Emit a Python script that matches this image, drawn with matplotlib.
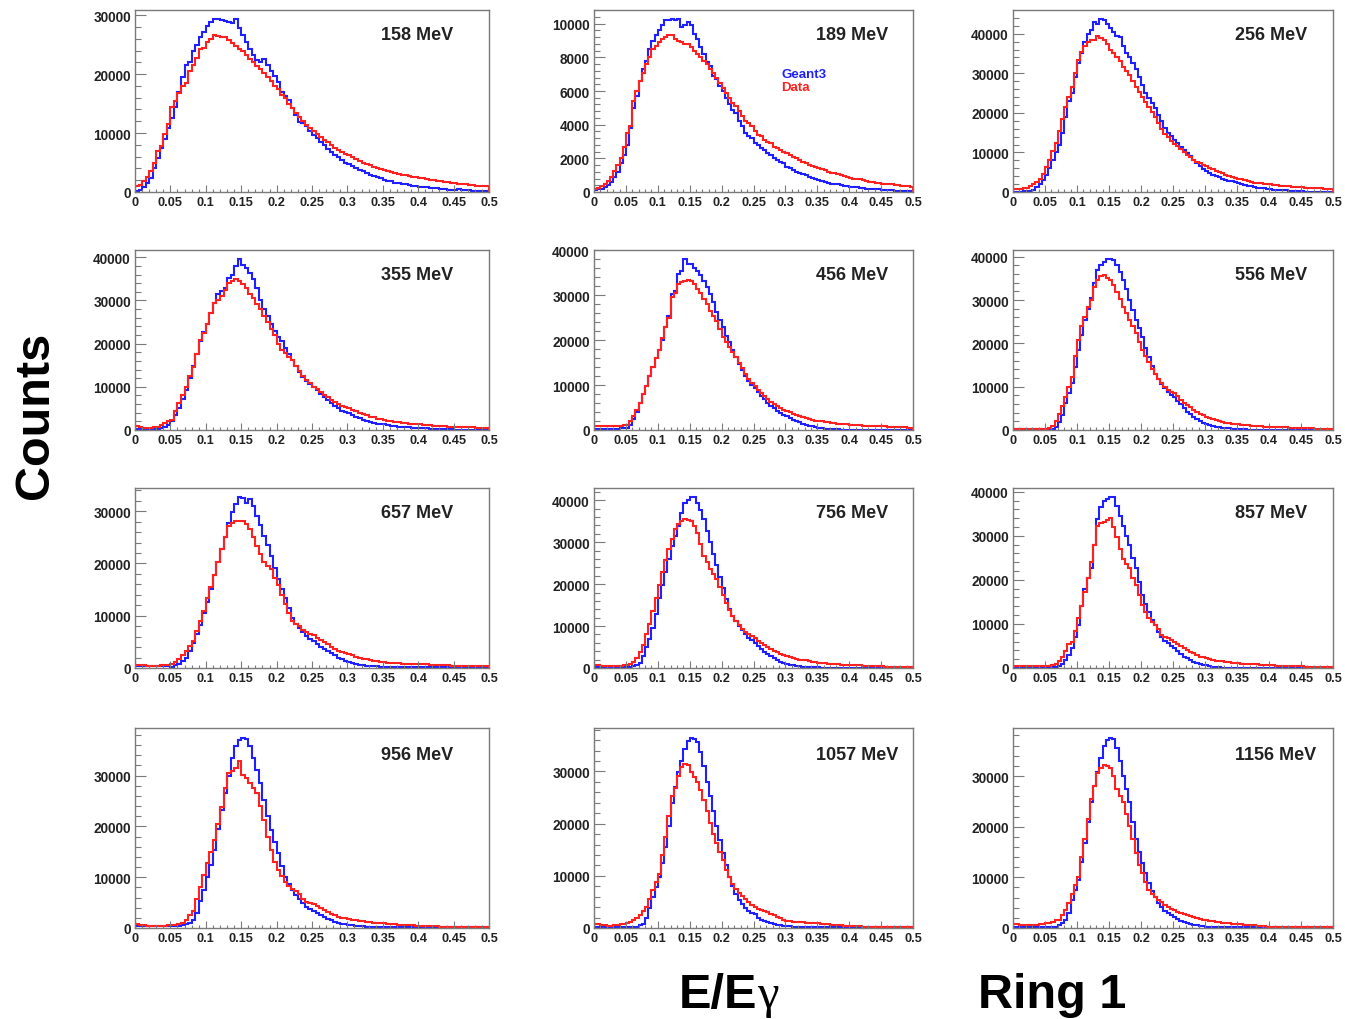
import numpy as np
import matplotlib
matplotlib.use("Agg")
import matplotlib.pyplot as plt
from matplotlib.ticker import MultipleLocator, FuncFormatter

plt.rcParams['font.family'] = ['Liberation Sans', 'DejaVu Sans']
plt.rcParams['font.weight'] = 'bold'

# E/Egamma histograms for ring 1, 100 bins on [0, 0.5], counts in thousands
edges = np.linspace(0.0, 0.5, 101)
energies = [158, 189, 256, 355, 456, 556, 657, 756, 857, 956, 1057, 1156]

g158 = [0.2, 0.4, 0.8, 1.5, 2.4, 4.0, 5.8, 7.5, 9.0, 10.8,
        12.5, 14.5, 17.0, 19.5, 21.6, 22.0, 24.0, 25.0, 26.3, 27.2,
        28.2, 28.8, 29.3, 29.4, 29.2, 29.0, 28.9, 28.7, 29.4, 27.8,
        26.6, 25.5, 24.2, 23.2, 22.4, 22.0, 22.6, 21.5, 20.5, 19.6,
        18.6, 17.0, 16.2, 15.6, 14.2, 13.0, 11.8, 11.7, 11.2, 10.3,
        9.7, 9.1, 8.5, 7.9, 7.3, 6.8, 6.3, 5.9, 5.4, 5.0,
        4.7, 4.4, 4.1, 3.8, 3.5, 3.2, 2.9, 2.7, 2.5, 2.3,
        2.1, 1.9, 1.8, 1.6, 1.5, 1.4, 1.3, 1.2, 1.1, 1.0,
        0.9, 0.8, 0.8, 0.7, 0.6, 0.6, 0.5, 0.5, 0.4, 0.4,
        0.4, 0.5, 0.3, 0.3, 0.3, 0.2, 0.2, 0.2, 0.2, 0.2]
d158 = [1.0, 1.2, 1.8, 2.5, 3.6, 5.0, 7.0, 7.8, 9.9, 11.5,
        14.4, 15.5, 16.8, 18.0, 18.5, 20.5, 21.6, 22.8, 24.2, 24.5,
        25.5, 26.0, 26.6, 26.5, 26.3, 26.3, 25.8, 25.3, 24.8, 24.3,
        23.9, 23.2, 22.6, 22.0, 21.4, 20.8, 20.2, 19.5, 18.8, 18.0,
        17.4, 16.4, 15.9, 15.0, 14.2, 13.4, 12.7, 12.0, 11.4, 10.9,
        10.4, 9.9, 9.4, 8.9, 8.4, 8.0, 7.5, 7.1, 6.8, 6.5,
        6.2, 5.9, 5.6, 5.3, 5.0, 4.8, 4.5, 4.3, 4.1, 3.9,
        3.8, 3.6, 3.4, 3.2, 3.0, 2.9, 2.8, 2.7, 2.6, 2.5,
        2.4, 2.3, 2.2, 2.1, 2.0, 1.9, 1.8, 1.7, 1.7, 1.6,
        1.5, 1.4, 1.4, 1.3, 1.2, 1.2, 1.1, 1.1, 1.0, 1.0]

g189 = [0.1, 0.15, 0.2, 0.3, 0.4, 0.6, 0.9, 1.2, 1.7, 2.2,
        2.8, 3.8, 5.0, 5.7, 6.6, 7.3, 7.8, 8.5, 9.0, 9.3,
        9.6, 9.9, 10.2, 10.2, 10.3, 10.2, 10.3, 9.8, 9.9, 10.1,
        9.9, 9.4, 9.1, 8.6, 8.2, 7.7, 7.5, 6.9, 6.7, 6.3,
        6.0, 5.6, 5.2, 4.9, 4.7, 4.2, 3.9, 3.5, 3.3, 3.2,
        2.9, 2.8, 2.6, 2.5, 2.3, 2.2, 2.0, 1.9, 1.8, 1.7,
        1.5, 1.4, 1.3, 1.2, 1.15, 1.05, 1.0, 0.9, 0.85, 0.75,
        0.7, 0.65, 0.6, 0.55, 0.5, 0.5, 0.45, 0.4, 0.35, 0.35,
        0.3, 0.3, 0.28, 0.25, 0.22, 0.2, 0.2, 0.2, 0.15, 0.15,
        0.12, 0.12, 0.1, 0.1, 0.08, 0.08, 0.06, 0.05, 0.05, 0.05]
d189 = [0.2, 0.25, 0.35, 0.5, 0.65, 0.9, 1.25, 1.6, 2.0, 2.7,
        3.5, 3.9, 5.4, 6.0, 6.6, 7.1, 7.6, 8.0, 8.5, 8.7,
        8.9, 9.1, 9.2, 9.3, 9.3, 9.1, 9.0, 8.9, 8.8, 8.8,
        8.6, 8.4, 8.2, 8.0, 7.8, 7.6, 7.3, 7.1, 6.8, 6.5,
        6.2, 5.9, 5.6, 5.3, 5.1, 4.8, 4.5, 4.2, 4.1, 3.9,
        3.6, 3.4, 3.3, 3.1, 3.0, 2.9, 2.7, 2.6, 2.5, 2.4,
        2.3, 2.2, 2.1, 2.0, 1.9, 1.8, 1.7, 1.6, 1.55, 1.5,
        1.45, 1.35, 1.3, 1.2, 1.15, 1.1, 1.05, 1.0, 0.95, 0.9,
        0.85, 0.8, 0.75, 0.75, 0.7, 0.65, 0.6, 0.6, 0.55, 0.55,
        0.5, 0.5, 0.45, 0.45, 0.4, 0.4, 0.35, 0.35, 0.35, 0.3]

g256 = [0.1, 0.1, 0.1, 0.2, 0.2, 0.3, 0.6, 1.2, 2.0, 3.0,
        4.2, 6.0, 8.0, 10.0, 12.0, 15.0, 19.0, 23.0, 25.0, 29.0,
        32.5, 35.0, 38.0, 39.8, 41.0, 43.0, 42.5, 43.8, 43.5, 42.5,
        41.5, 40.5, 39.5, 39.2, 37.0, 35.0, 34.0, 32.5, 31.0, 29.0,
        27.0, 25.0, 23.8, 22.5, 21.2, 19.5, 18.0, 16.2, 15.0, 14.2,
        13.2, 12.3, 11.4, 10.6, 9.9, 9.0, 8.2, 7.4, 6.6, 5.9,
        5.2, 4.8, 4.4, 4.0, 3.7, 3.4, 3.1, 2.9, 2.7, 2.5,
        2.3, 2.0, 1.8, 1.6, 1.4, 1.2, 1.1, 1.0, 0.9, 0.8,
        0.7, 0.6, 0.5, 0.5, 0.4, 0.4, 0.3, 0.3, 0.3, 0.2,
        0.2, 0.1, 0.1, 0.1, 0.1, 0.1, 0.1, 0.1, 0.1, 0.1]
d256 = [0.7, 0.7, 0.7, 0.9, 1.1, 1.5, 2.0, 2.6, 3.2, 4.5,
        6.2, 8.0, 10.4, 12.5, 15.5, 18.5, 21.5, 24.0, 26.6, 30.0,
        33.4, 35.5, 36.8, 37.8, 38.5, 38.5, 39.3, 38.8, 38.5, 37.5,
        35.9, 35.0, 34.2, 33.0, 31.7, 30.5, 29.5, 28.0, 26.5, 25.2,
        24.0, 22.8, 21.5, 20.2, 19.0, 17.5, 16.0, 14.7, 13.8, 13.0,
        12.2, 11.5, 10.8, 10.1, 9.4, 8.8, 8.2, 7.7, 7.3, 6.9,
        6.5, 6.1, 5.7, 5.3, 5.0, 4.7, 4.4, 4.1, 3.8, 3.6,
        3.4, 3.2, 3.0, 2.8, 2.6, 2.4, 2.3, 2.2, 2.1, 2.0,
        1.9, 1.8, 1.7, 1.6, 1.5, 1.45, 1.4, 1.3, 1.3, 1.2,
        1.2, 1.1, 1.1, 1.0, 1.0, 0.9, 0.9, 0.8, 0.8, 0.8]

g355 = [0.3, 0.3, 0.2, 0.2, 0.2, 0.2, 0.3, 0.5, 0.8, 1.2,
        2.2, 3.5, 5.0, 7.2, 9.3, 12.0, 14.8, 17.5, 20.5, 22.8,
        24.6, 27.0, 29.5, 31.5, 32.2, 33.0, 35.3, 36.0, 37.9, 39.7,
        38.3, 37.5, 36.4, 35.0, 33.0, 30.0, 28.0, 26.5, 24.6, 23.0,
        21.5, 20.5, 19.0, 17.5, 16.2, 14.8, 13.5, 12.3, 11.3, 10.6,
        10.0, 9.2, 8.4, 7.6, 7.0, 6.3, 5.6, 5.0, 4.5, 4.2,
        4.0, 3.5, 3.1, 2.7, 2.4, 2.1, 1.8, 1.6, 1.4, 1.3,
        1.3, 1.1, 1.0, 0.9, 0.8, 0.7, 0.6, 0.6, 0.5, 0.5,
        0.5, 0.4, 0.4, 0.3, 0.3, 0.3, 0.2, 0.2, 0.2, 0.2,
        0.1, 0.1, 0.1, 0.1, 0.1, 0.1, 0.1, 0.1, 0.1, 0.1]
d355 = [1.0, 0.8, 0.5, 0.4, 0.5, 0.6, 0.8, 1.2, 1.6, 2.0,
        2.4, 4.5, 6.3, 8.2, 10.0, 12.5, 14.7, 17.5, 20.8, 22.5,
        24.6, 27.0, 29.5, 30.0, 31.0, 32.5, 34.1, 34.5, 34.9, 34.6,
        33.7, 32.8, 31.5, 30.5, 29.2, 28.0, 26.5, 25.0, 23.4, 22.0,
        20.0, 18.6, 17.9, 17.0, 16.2, 14.8, 13.6, 12.5, 11.5, 10.8,
        10.0, 9.4, 8.8, 8.2, 7.6, 7.0, 6.5, 6.0, 5.5, 5.3,
        5.1, 4.7, 4.3, 4.0, 3.7, 3.4, 3.1, 2.9, 2.6, 2.5,
        2.4, 2.2, 2.0, 1.9, 1.8, 1.7, 1.6, 1.5, 1.4, 1.3,
        1.3, 1.2, 1.1, 1.1, 1.0, 1.0, 0.9, 0.9, 0.8, 0.8,
        0.8, 0.7, 0.7, 0.6, 0.6, 0.6, 0.5, 0.5, 0.5, 0.5]

g456 = [0.3, 0.3, 0.3, 0.3, 0.3, 0.3, 0.3, 0.3, 0.4, 0.4,
        0.5, 1.2, 2.4, 4.0, 6.0, 8.0, 9.7, 12.0, 14.1, 16.0,
        17.8, 20.0, 22.9, 25.5, 30.3, 31.0, 34.7, 35.5, 38.2, 36.9,
        36.9, 36.2, 35.4, 34.5, 33.2, 31.8, 30.3, 28.5, 26.2, 24.5,
        22.9, 21.0, 19.5, 17.8, 16.3, 14.8, 13.3, 12.0, 10.9, 10.0,
        9.3, 8.4, 7.6, 6.8, 6.0, 5.4, 4.8, 4.3, 3.8, 3.4,
        3.1, 2.7, 2.3, 2.0, 1.7, 1.4, 1.2, 1.0, 0.8, 0.6,
        0.5, 0.4, 0.3, 0.3, 0.2, 0.2, 0.2, 0.1, 0.1, 0.1,
        0.1, 0.1, 0.1, 0.1, 0.1, 0.1, 0.1, 0.1, 0.1, 0.1,
        0.1, 0.1, 0.1, 0.1, 0.1, 0.1, 0.1, 0.1, 0.1, 0.1]
d456 = [0.8, 0.8, 0.8, 0.8, 0.8, 0.8, 0.8, 0.9, 1.0, 1.1,
        1.2, 2.0, 3.1, 4.5, 6.0, 8.0, 9.7, 12.0, 14.1, 16.0,
        17.8, 20.5, 22.9, 25.0, 29.6, 30.5, 32.5, 33.0, 33.2, 33.4,
        33.2, 32.5, 31.4, 30.5, 29.2, 28.0, 26.6, 25.5, 24.4, 22.5,
        20.7, 19.5, 18.5, 17.3, 16.3, 15.0, 13.8, 12.5, 11.3, 10.5,
        9.7, 9.0, 8.3, 7.6, 6.8, 6.3, 5.8, 5.3, 4.9, 4.5,
        4.2, 3.9, 3.6, 3.3, 3.1, 2.8, 2.6, 2.4, 2.2, 2.1,
        2.0, 1.9, 1.8, 1.7, 1.6, 1.5, 1.4, 1.4, 1.3, 1.3,
        1.2, 1.2, 1.1, 1.1, 1.0, 1.0, 0.9, 0.9, 0.9, 0.8,
        0.8, 0.8, 0.7, 0.7, 0.7, 0.6, 0.6, 0.6, 0.5, 0.5]

g556 = [0.2, 0.2, 0.2, 0.2, 0.2, 0.2, 0.2, 0.2, 0.2, 0.2,
        0.2, 0.2, 0.3, 0.6, 1.9, 3.5, 6.2, 8.5, 10.8, 14.5,
        18.5, 22.0, 25.4, 28.0, 30.4, 34.0, 36.9, 38.0, 38.8, 39.5,
        39.6, 39.2, 38.0, 36.5, 34.6, 32.5, 30.0, 27.8, 25.4, 23.5,
        21.5, 19.0, 16.9, 14.8, 13.0, 11.8, 10.6, 9.6, 8.8, 8.2,
        7.7, 6.8, 6.0, 5.0, 4.2, 3.6, 3.0, 2.5, 2.0, 1.7,
        1.5, 1.2, 1.0, 0.8, 0.6, 0.5, 0.4, 0.4, 0.3, 0.3,
        0.2, 0.2, 0.2, 0.1, 0.1, 0.1, 0.1, 0.1, 0.1, 0.1,
        0.1, 0.1, 0.1, 0.1, 0.1, 0.1, 0.1, 0.1, 0.1, 0.1,
        0.1, 0.1, 0.1, 0.1, 0.1, 0.1, 0.1, 0.1, 0.1, 0.1]
d556 = [0.3, 0.3, 0.3, 0.3, 0.3, 0.3, 0.3, 0.3, 0.3, 0.3,
        0.3, 0.5, 1.0, 2.0, 3.8, 5.5, 7.7, 10.0, 12.3, 17.0,
        20.8, 24.0, 26.2, 28.5, 30.0, 33.0, 34.6, 35.5, 35.8, 35.2,
        34.6, 33.5, 31.9, 30.2, 28.5, 27.0, 25.4, 24.0, 22.3, 20.3,
        18.5, 17.0, 15.8, 14.2, 13.0, 11.8, 10.8, 10.0, 9.2, 8.8,
        8.5, 7.8, 7.0, 6.3, 5.8, 5.2, 4.7, 4.2, 3.8, 3.4,
        3.1, 2.8, 2.5, 2.2, 2.0, 1.8, 1.7, 1.6, 1.5, 1.4,
        1.3, 1.2, 1.1, 1.1, 1.0, 1.0, 0.9, 0.9, 0.8, 0.8,
        0.8, 0.7, 0.7, 0.6, 0.6, 0.6, 0.5, 0.5, 0.5, 0.5,
        0.4, 0.4, 0.4, 0.4, 0.3, 0.3, 0.3, 0.3, 0.3, 0.3]

g657 = [0.3, 0.3, 0.3, 0.3, 0.3, 0.3, 0.3, 0.3, 0.3, 0.3,
        0.2, 0.5, 0.8, 1.3, 2.0, 3.2, 4.8, 6.5, 8.3, 10.5,
        12.7, 15.2, 17.7, 20.2, 22.8, 25.0, 27.8, 29.8, 31.3, 32.8,
        32.5, 31.5, 32.4, 31.0, 29.0, 27.3, 25.3, 23.5, 21.5, 19.2,
        17.1, 15.2, 13.3, 11.4, 9.6, 8.5, 7.6, 6.8, 6.1, 5.6,
        5.2, 4.6, 4.0, 3.6, 3.3, 2.8, 2.4, 2.0, 1.7, 1.4,
        1.1, 0.9, 0.8, 0.6, 0.5, 0.4, 0.4, 0.3, 0.3, 0.2,
        0.2, 0.2, 0.1, 0.1, 0.1, 0.1, 0.1, 0.1, 0.1, 0.1,
        0.1, 0.1, 0.1, 0.1, 0.1, 0.1, 0.1, 0.1, 0.1, 0.1,
        0.1, 0.1, 0.1, 0.1, 0.1, 0.1, 0.1, 0.1, 0.1, 0.1]
d657 = [0.6, 0.6, 0.5, 0.4, 0.4, 0.4, 0.4, 0.5, 0.5, 0.6,
        0.75, 1.2, 1.7, 2.5, 3.3, 4.2, 5.2, 7.0, 8.9, 11.0,
        13.3, 15.5, 17.7, 20.2, 22.8, 25.0, 27.2, 27.8, 28.1, 28.2,
        28.1, 27.5, 26.5, 25.0, 23.4, 21.8, 20.3, 19.6, 19.0, 17.3,
        15.8, 14.0, 12.3, 10.5, 9.0, 8.5, 8.0, 7.3, 6.9, 6.6,
        6.4, 5.8, 5.4, 5.0, 4.5, 4.1, 3.7, 3.3, 3.0, 2.8,
        2.6, 2.4, 2.2, 2.0, 1.8, 1.7, 1.5, 1.4, 1.3, 1.2,
        1.1, 1.0, 1.0, 0.9, 0.9, 0.8, 0.8, 0.8, 0.75, 0.75,
        0.75, 0.7, 0.7, 0.6, 0.6, 0.6, 0.5, 0.5, 0.5, 0.4,
        0.4, 0.4, 0.4, 0.3, 0.3, 0.3, 0.3, 0.3, 0.3, 0.3]

g756 = [0.3, 0.3, 0.3, 0.3, 0.3, 0.3, 0.3, 0.3, 0.3, 0.3,
        0.3, 0.3, 0.5, 0.8, 1.3, 2.8, 4.9, 7.0, 9.6, 13.0,
        16.6, 19.8, 22.9, 26.0, 29.2, 31.5, 33.9, 37.0, 39.4, 40.0,
        40.8, 40.9, 39.4, 37.8, 35.5, 32.8, 30.0, 27.2, 24.5, 21.8,
        19.0, 16.5, 14.0, 12.5, 11.1, 10.0, 9.0, 8.0, 7.2, 6.6,
        6.0, 5.2, 4.6, 3.9, 3.3, 2.8, 2.3, 1.9, 1.5, 1.2,
        0.9, 0.7, 0.6, 0.5, 0.4, 0.3, 0.3, 0.2, 0.2, 0.2,
        0.2, 0.1, 0.1, 0.1, 0.1, 0.1, 0.1, 0.1, 0.1, 0.1,
        0.1, 0.1, 0.1, 0.1, 0.1, 0.1, 0.1, 0.1, 0.1, 0.1,
        0.1, 0.1, 0.1, 0.1, 0.1, 0.1, 0.1, 0.1, 0.1, 0.1]
d756 = [0.7, 0.6, 0.5, 0.4, 0.4, 0.4, 0.4, 0.5, 0.5, 0.6,
        0.7, 0.9, 1.5, 2.5, 3.8, 5.6, 8.0, 10.4, 13.5, 16.6,
        19.8, 22.9, 25.8, 28.4, 30.8, 33.1, 34.3, 35.1, 35.5, 35.4,
        35.0, 33.8, 32.3, 29.5, 26.8, 25.2, 23.7, 22.5, 21.3, 19.3,
        17.4, 15.6, 13.8, 12.3, 11.1, 10.2, 9.4, 8.6, 8.0, 7.6,
        7.2, 6.5, 5.9, 5.4, 4.9, 4.5, 4.1, 3.7, 3.4, 3.1,
        2.9, 2.6, 2.4, 2.2, 2.0, 1.9, 1.8, 1.6, 1.5, 1.4,
        1.3, 1.2, 1.1, 1.0, 1.0, 0.9, 0.9, 0.8, 0.8, 0.7,
        0.7, 0.6, 0.6, 0.6, 0.5, 0.5, 0.5, 0.5, 0.4, 0.4,
        0.4, 0.3, 0.3, 0.3, 0.3, 0.3, 0.3, 0.3, 0.3, 0.3]

g857 = [0.3, 0.3, 0.3, 0.3, 0.3, 0.3, 0.3, 0.3, 0.3, 0.3,
        0.3, 0.3, 0.3, 0.3, 0.4, 1.0, 1.9, 3.0, 4.5, 7.0,
        9.8, 14.0, 18.0, 20.5, 22.6, 28.0, 33.8, 36.5, 38.0, 38.3,
        38.7, 38.9, 36.8, 34.5, 32.3, 30.0, 27.8, 25.0, 22.6, 19.5,
        16.5, 14.5, 12.8, 11.0, 9.8, 8.2, 7.0, 6.2, 5.6, 5.0,
        4.5, 3.8, 3.2, 2.6, 2.2, 1.8, 1.4, 1.1, 0.9, 0.75,
        0.6, 0.4, 0.3, 0.2, 0.2, 0.1, 0.1, 0.1, 0.1, 0.1,
        0.1, 0.1, 0.1, 0.1, 0.1, 0.1, 0.1, 0.1, 0.1, 0.1,
        0.1, 0.1, 0.1, 0.1, 0.1, 0.1, 0.1, 0.1, 0.1, 0.1,
        0.1, 0.1, 0.1, 0.1, 0.1, 0.1, 0.1, 0.1, 0.1, 0.1]
d857 = [0.5, 0.5, 0.5, 0.4, 0.4, 0.4, 0.4, 0.4, 0.4, 0.4,
        0.4, 0.5, 0.7, 1.0, 1.5, 2.5, 3.8, 5.5, 6.0, 8.5,
        11.3, 14.0, 17.3, 20.5, 24.0, 28.0, 32.3, 32.8, 33.1, 33.5,
        34.0, 32.0, 29.7, 27.0, 24.8, 23.5, 22.6, 20.5, 18.8, 16.5,
        14.3, 12.8, 11.3, 10.5, 9.8, 8.8, 7.5, 7.0, 6.8, 6.4,
        6.0, 5.5, 5.0, 4.5, 4.1, 3.7, 3.3, 3.0, 2.6, 2.4,
        2.3, 2.0, 1.8, 1.7, 1.6, 1.5, 1.4, 1.3, 1.2, 1.1,
        1.1, 1.0, 1.0, 0.9, 0.9, 0.8, 0.8, 0.7, 0.7, 0.6,
        0.6, 0.6, 0.5, 0.5, 0.5, 0.5, 0.4, 0.4, 0.4, 0.4,
        0.4, 0.3, 0.3, 0.3, 0.2, 0.2, 0.2, 0.2, 0.2, 0.2]

g956 = [0.3, 0.3, 0.3, 0.3, 0.3, 0.3, 0.3, 0.3, 0.3, 0.3,
        0.3, 0.3, 0.3, 0.5, 0.7, 1.0, 1.5, 3.0, 5.4, 7.5,
        10.0, 12.5, 15.3, 19.5, 23.3, 26.5, 29.9, 33.5, 35.8, 37.0,
        37.5, 37.3, 35.8, 33.5, 31.2, 28.5, 25.2, 22.0, 19.3, 17.0,
        14.7, 12.2, 10.0, 8.7, 7.4, 6.5, 5.8, 5.0, 4.2, 3.8,
        3.4, 2.9, 2.5, 2.1, 1.8, 1.5, 1.2, 1.0, 0.8, 0.7,
        0.6, 0.5, 0.4, 0.3, 0.3, 0.2, 0.2, 0.1, 0.1, 0.1,
        0.1, 0.1, 0.1, 0.1, 0.1, 0.1, 0.1, 0.1, 0.1, 0.1,
        0.1, 0.1, 0.1, 0.1, 0.1, 0.1, 0.1, 0.1, 0.1, 0.1,
        0.1, 0.1, 0.1, 0.1, 0.1, 0.1, 0.1, 0.1, 0.1, 0.1]
d956 = [0.7, 0.6, 0.5, 0.4, 0.3, 0.3, 0.3, 0.4, 0.4, 0.5,
        0.5, 0.6, 0.7, 1.0, 1.5, 2.5, 3.4, 5.8, 8.1, 10.5,
        12.7, 15.0, 17.3, 20.5, 23.9, 27.5, 30.5, 31.0, 31.5, 32.8,
        30.2, 29.5, 28.6, 27.5, 26.6, 24.0, 21.3, 18.0, 15.3, 13.0,
        11.4, 10.2, 9.1, 8.3, 7.7, 7.2, 6.7, 5.8, 5.2, 5.0,
        4.8, 4.3, 3.9, 3.5, 3.1, 2.8, 2.5, 2.2, 2.0, 1.9,
        1.8, 1.6, 1.5, 1.4, 1.3, 1.2, 1.1, 1.0, 1.0, 0.9,
        0.9, 0.8, 0.7, 0.7, 0.6, 0.6, 0.5, 0.5, 0.5, 0.4,
        0.4, 0.4, 0.3, 0.3, 0.3, 0.3, 0.2, 0.2, 0.2, 0.2,
        0.2, 0.1, 0.1, 0.1, 0.1, 0.1, 0.1, 0.1, 0.1, 0.1]

g1057 = [0.2, 0.2, 0.2, 0.2, 0.2, 0.2, 0.2, 0.2, 0.2, 0.2,
         0.2, 0.2, 0.2, 0.2, 0.5, 0.8, 2.0, 3.8, 5.9, 7.8,
         9.8, 12.5, 15.6, 19.5, 24.0, 27.0, 29.8, 32.0, 34.3, 35.8,
         36.5, 36.3, 35.6, 33.8, 31.1, 28.0, 25.3, 22.5, 19.5, 16.8,
         14.3, 12.0, 9.8, 8.0, 6.6, 5.4, 4.6, 3.9, 3.2, 2.8,
         2.6, 2.0, 1.6, 1.4, 1.1, 0.9, 0.7, 0.6, 0.5, 0.4,
         0.3, 0.3, 0.2, 0.2, 0.1, 0.1, 0.1, 0.1, 0.1, 0.1,
         0.1, 0.1, 0.1, 0.1, 0.1, 0.1, 0.1, 0.1, 0.1, 0.1,
         0.1, 0.1, 0.1, 0.1, 0.1, 0.1, 0.1, 0.1, 0.1, 0.1,
         0.1, 0.1, 0.1, 0.1, 0.1, 0.1, 0.1, 0.1, 0.1, 0.1]
d1057 = [0.8, 0.7, 0.6, 0.5, 0.4, 0.4, 0.5, 0.6, 0.7, 0.8,
         0.9, 1.2, 1.6, 2.0, 2.5, 3.2, 4.0, 5.5, 7.2, 8.8,
         10.4, 14.0, 17.5, 21.5, 25.3, 26.8, 29.2, 30.8, 31.4, 31.2,
         29.8, 29.0, 27.9, 26.5, 24.6, 22.5, 20.1, 18.0, 16.3, 14.5,
         13.0, 11.2, 9.8, 8.5, 7.5, 6.8, 6.2, 5.6, 5.0, 4.5,
         4.0, 3.7, 3.4, 3.2, 3.0, 2.7, 2.4, 2.1, 1.9, 1.6,
         1.4, 1.3, 1.2, 1.2, 1.1, 1.1, 1.0, 1.0, 1.0, 0.9,
         0.9, 0.8, 0.7, 0.7, 0.6, 0.6, 0.5, 0.5, 0.4, 0.4,
         0.4, 0.3, 0.3, 0.3, 0.2, 0.2, 0.2, 0.2, 0.1, 0.1,
         0.1, 0.1, 0.1, 0.1, 0.1, 0.1, 0.1, 0.1, 0.1, 0.1]

g1156 = [0.2, 0.2, 0.2, 0.2, 0.2, 0.2, 0.2, 0.2, 0.2, 0.2,
         0.2, 0.2, 0.2, 0.2, 0.5, 0.9, 1.5, 3.0, 5.5, 7.5,
         9.5, 13.0, 16.8, 21.0, 24.8, 28.0, 30.8, 33.5, 36.0, 37.2,
         37.6, 37.3, 35.5, 33.0, 30.1, 27.5, 24.8, 21.0, 17.5, 15.0,
         12.8, 10.8, 8.8, 7.3, 6.1, 5.0, 4.1, 3.4, 2.9, 2.5,
         2.1, 1.7, 1.4, 1.1, 0.9, 0.7, 0.6, 0.5, 0.4, 0.3,
         0.2, 0.1, 0.1, 0.1, 0.1, 0.1, 0.1, 0.1, 0.1, 0.1,
         0.1, 0.1, 0.1, 0.1, 0.1, 0.1, 0.1, 0.1, 0.1, 0.1,
         0.1, 0.1, 0.1, 0.1, 0.1, 0.1, 0.1, 0.1, 0.1, 0.1,
         0.1, 0.1, 0.1, 0.1, 0.1, 0.1, 0.1, 0.1, 0.1, 0.1]
d1156 = [0.8, 0.7, 0.6, 0.5, 0.5, 0.5, 0.5, 0.6, 0.7, 0.8,
         0.9, 1.0, 1.2, 1.5, 1.5, 2.5, 3.5, 5.0, 6.8, 8.5,
         10.1, 14.0, 17.5, 21.5, 25.5, 28.0, 30.5, 31.5, 32.1, 32.0,
         31.5, 30.0, 27.5, 26.0, 24.8, 22.5, 20.1, 17.5, 14.8, 12.5,
         10.8, 9.0, 7.5, 6.8, 6.1, 5.6, 5.1, 4.6, 4.2, 3.8,
         3.5, 3.2, 3.0, 2.8, 2.5, 2.3, 2.1, 1.9, 1.8, 1.6,
         1.5, 1.4, 1.3, 1.2, 1.1, 1.0, 0.9, 0.9, 0.8, 0.8,
         0.8, 0.7, 0.6, 0.6, 0.5, 0.5, 0.4, 0.4, 0.3, 0.2,
         0.2, 0.1, 0.1, 0.1, 0.1, 0.1, 0.1, 0.1, 0.1, 0.1,
         0.1, 0.1, 0.1, 0.1, 0.1, 0.1, 0.1, 0.1, 0.1, 0.1]

geant = [g158, g189, g256, g355, g456, g556, g657, g756, g857, g956, g1057, g1156]
data = [d158, d189, d256, d355, d456, d556, d657, d756, d857, d956, d1057, d1156]

# pad frames in pixels of the 1345x1020 canvas
W, H = 1345, 1020
col_x = [(135, 489), (594, 913), (1013, 1333)]
row_y = [(11, 193), (251, 431), (489, 669), (729, 929)]

fig = plt.figure(figsize=(W / 100, H / 100), dpi=100)
frame_col = '#7a7a7a'

for k, energy in enumerate(energies):
    r, c = divmod(k, 3)
    x0, x1 = col_x[c]
    y0, y1 = row_y[r]
    ax = fig.add_axes([x0 / W, 1 - y1 / H, (x1 - x0) / W, (y1 - y0) / H])

    g = np.array(geant[k]) * 1000
    d = np.array(data[k]) * 1000
    ax.stairs(g, edges, color='#1f1fff', lw=1.5)
    ax.stairs(d, edges, color='#ff2020', lw=1.5)

    ymax = 1.05 * max(g.max(), d.max())
    ax.set_xlim(0, 0.5)
    ax.set_ylim(0, ymax)

    step = 2000 if ymax < 15000 else 10000
    ax.yaxis.set_major_locator(MultipleLocator(step))
    ax.yaxis.set_minor_locator(MultipleLocator(step / 5))
    ax.xaxis.set_major_locator(MultipleLocator(0.05))
    ax.xaxis.set_minor_locator(MultipleLocator(0.01))
    ax.xaxis.set_major_formatter(FuncFormatter(lambda v, p: '%g' % round(v, 3)))
    ax.yaxis.set_major_formatter(FuncFormatter(lambda v, p: '%d' % v))

    ax.tick_params(axis='both', which='both', direction='in', colors=frame_col,
                   labelcolor='#222222', width=0.8)
    ax.tick_params(axis='y', which='major', length=8, pad=3, labelsize=9.8)
    ax.tick_params(axis='y', which='minor', length=4)
    ax.tick_params(axis='x', which='major', length=5, pad=3, labelsize=9.2)
    ax.tick_params(axis='x', which='minor', length=2.5)
    for lab in ax.get_xticklabels() + ax.get_yticklabels():
        lab.set_fontweight('bold')
    for sp in ax.spines.values():
        sp.set_color(frame_col)
        sp.set_linewidth(1.0)

    ax.text(0.695, 0.865, '%d MeV' % energy, transform=ax.transAxes,
            fontsize=13, fontweight='bold', color='#222222', ha='left', va='center')

    if energy == 189:
        ax.text(0.588, 0.646, 'Geant3', transform=ax.transAxes, fontsize=9.5,
                fontweight='bold', color='#1f1fff', ha='left', va='center')
        ax.text(0.588, 0.575, 'Data', transform=ax.transAxes, fontsize=9.5,
                fontweight='bold', color='#ff2020', ha='left', va='center')

fig.text(35 / W, 1 - 415 / H, 'Counts', rotation=90, fontsize=35,
         fontweight='bold', ha='center', va='center')
fig.text(757 / W, 1 - 1008 / H, 'E/E', fontsize=35,
         fontweight='bold', ha='right', va='baseline')
fig.text(757 / W, 1 - 1008 / H, '\u03b3', fontsize=35, family='Liberation Serif',
         fontweight='normal', ha='left', va='baseline')
fig.text(1052 / W, 1 - 1008 / H, 'Ring 1', fontsize=35,
         fontweight='bold', ha='center', va='baseline')

fig.savefig('out.png', dpi=100)
